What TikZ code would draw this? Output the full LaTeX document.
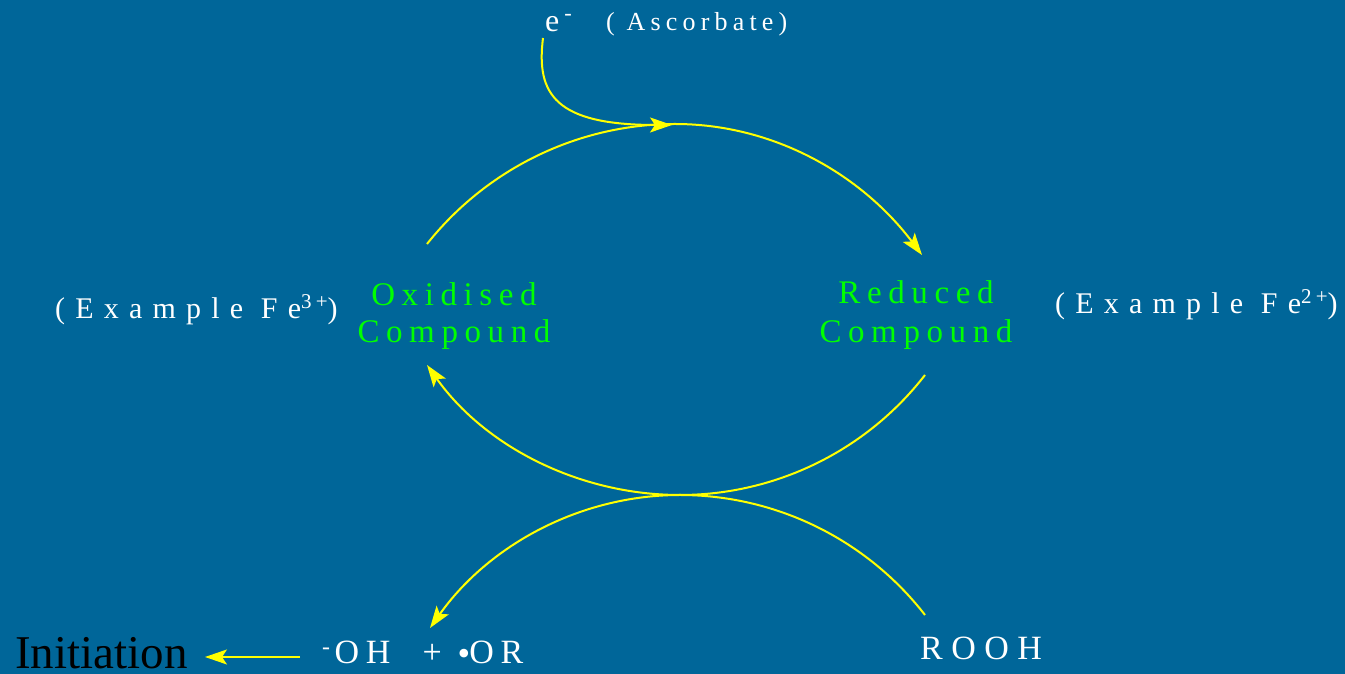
\documentclass[tikz,border=0pt]{standalone}
\usepackage{fontspec}
\setmainfont{Liberation Serif}
\newfontfamily\lsA[LetterSpace=20]{Liberation Serif}
\newfontfamily\lsB[LetterSpace=34]{Liberation Serif}
\newfontfamily\lsD[LetterSpace=25]{Liberation Serif}
\usetikzlibrary{arrows.meta}
\definecolor{bg}{RGB}{0,102,153}
\definecolor{grn}{RGB}{0,255,0}
\definecolor{ylw}{RGB}{255,255,0}
\newcommand{\fesup}[1]{{\lsA\fontsize{21}{21}\selectfont\raisebox{10pt}{#1}}}
\begin{document}
\begin{tikzpicture}[x=1pt,y=1pt,
  conn/.style={draw=ylw, line width=2pt},
  tipped/.style={-{Stealth[length=22pt,width=15pt,inset=5pt]}},
  wlab/.style={text=white, inner sep=0pt, anchor=base west},
  glab/.style={text=grn, inner sep=0pt, align=center, anchor=base},
]
\fill[bg] (0,0) rectangle (1345,674);
\useasboundingbox (0,0) rectangle (1345,674);

% labels
\node[wlab, font=\fontsize{32}{32}\selectfont] (elec) at (545,642) {e\kern5pt\raisebox{2pt}{\textsuperscript{-}}};
\node[wlab, font=\lsA\fontsize{26}{26}\selectfont] (asc) at (606,643) {( Ascorbate)};
\node[wlab, font=\lsB\fontsize{30}{30}\selectfont] (fe3) at (55,355) {(Example Fe\fesup{3+})};
\node[wlab, font=\lsB\fontsize{30}{30}\selectfont] (fe2) at (1055,360) {(Example Fe\fesup{2+})};
\node[glab, font=\lsA\fontsize{33}{37}\selectfont] (ox) at (454,331) {Oxidised\\Compound};
\node[glab, font=\lsA\fontsize{33}{39}\selectfont] (red) at (916,331) {Reduced\\Compound};
\node[inner sep=0pt, anchor=base west, text=black, font=\fontsize{47}{47}\selectfont] (init) at (15,5) {Initiation};
\node[wlab, font=\lsA\fontsize{34}{34}\selectfont] (prod) at (322,10) {\textsuperscript{-}\kern4pt OH\hspace{32pt}+\hspace{16pt}{\fontsize{36}{36}\selectfont\raisebox{-2pt}{•}}\kern-1pt OR};
\node[wlab, font=\lsD\fontsize{34}{34}\selectfont] (rooh) at (920,14) {ROOH};

% arc end points
\coordinate (oxS) at (427,430);
\coordinate (topT) at (675,550);
\coordinate (redE) at (922,419);
\coordinate (redS) at (925,299);
\coordinate (midB) at (680,179);
\coordinate (oxE) at (427,309);
\coordinate (roohS) at (925,59);
\coordinate (prodE) at (430,46);
\coordinate (eS) at (543,636);
\coordinate (eE) at (672,549);
\coordinate (initS) at (300,17);
\coordinate (initE) at (205,17);

% top arc: oxidised -> reduced
\draw[conn, tipped] (oxS) .. controls (487,505.6) and (578.5,550) .. (topT)
   .. controls (774.6,550) and (862,498.7) .. (redE);
% electron input
\draw[conn, tipped] (eS) .. controls (536,580) and (555,549) .. (eE);
% bottom arc: reduced -> oxidised
\draw[conn, tipped] (redS) .. controls (866.3,223.3) and (775.8,179) .. (midB)
   .. controls (579.6,179) and (485.1,227.2) .. (oxE);
% lower arc: ROOH -> products
\draw[conn, tipped] (roohS) .. controls (866.3,134.7) and (775.8,179) .. (midB)
   .. controls (579.4,179) and (488.1,128.1) .. (prodE);
% initiation
\draw[conn, tipped] (initS) -- (initE);
\end{tikzpicture}
\end{document}
